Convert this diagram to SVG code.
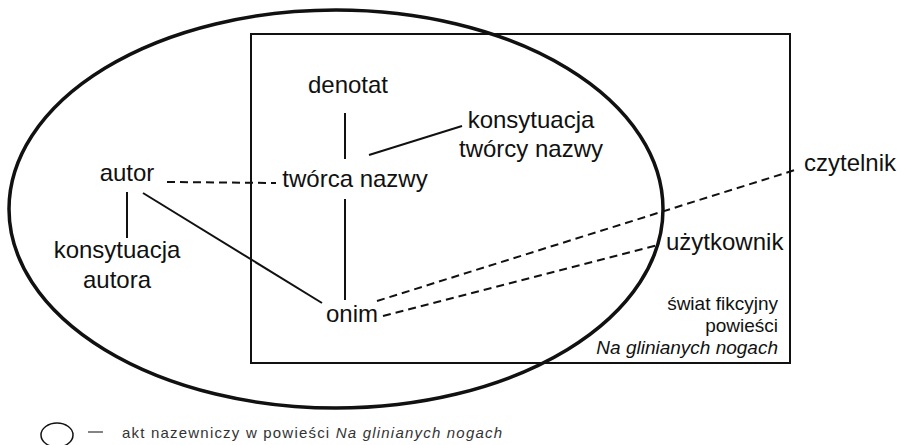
<svg xmlns="http://www.w3.org/2000/svg" width="901" height="445" viewBox="0 0 901 445">
  <style>
    .lbl { font-family: "Liberation Sans", Arial, sans-serif; font-size: 24px; fill: #111; }
    .sm { font-family: "Liberation Sans", Arial, sans-serif; font-size: 19px; fill: #111; text-anchor: end; }
    .legend { font-family: "Liberation Sans", Arial, sans-serif; font-size: 15px; fill: #333; letter-spacing: 1.2px; }
    .solid { stroke: #111; stroke-width: 2; fill: none; }
    .dash { stroke: #111; stroke-width: 2; fill: none; stroke-dasharray: 8 5; }
  </style>
  <rect width="901" height="445" fill="#fff"/>

  <!-- naming act (ellipse) and fictional world (frame) -->
  <g id="act">
    <ellipse cx="336" cy="209" rx="327" ry="199" fill="none" stroke="#111" stroke-width="3.5"/>
  </g>
  <g id="world">
    <rect x="251" y="34" width="539" height="329" fill="none" stroke="#111" stroke-width="2"/>
    <text class="sm" x="778" y="310">świat fikcyjny</text>
    <text class="sm" x="778" y="332">powieści</text>
    <text class="sm" x="778" y="354" font-style="italic">Na glinianych nogach</text>
  </g>

  <!-- connectors -->
  <g id="connectors">
    <line class="solid" x1="345" y1="113" x2="345" y2="159"/>
    <line class="solid" x1="345" y1="199" x2="345" y2="300"/>
    <line class="solid" x1="369" y1="155" x2="462" y2="126"/>
    <line class="solid" x1="127" y1="192" x2="127" y2="238"/>
    <line class="solid" x1="143" y1="193" x2="322" y2="303"/>
    <line class="dash" x1="167" y1="182" x2="276" y2="183"/>
    <line class="dash" x1="377" y1="301" x2="795" y2="170"/>
    <line class="dash" x1="383" y1="316" x2="658" y2="245"/>
  </g>

  <!-- nodes -->
  <g id="denotat"><text class="lbl" x="348" y="93" text-anchor="middle">denotat</text></g>
  <g id="tworca"><text class="lbl" x="355" y="187" text-anchor="middle">twórca nazwy</text></g>
  <g id="konsytuacja-tworcy">
    <text class="lbl" x="531" y="128" text-anchor="middle">konsytuacja</text>
    <text class="lbl" x="531" y="157" text-anchor="middle">twórcy nazwy</text>
  </g>
  <g id="autor"><text class="lbl" x="127" y="181" text-anchor="middle">autor</text></g>
  <g id="konsytuacja-autora">
    <text class="lbl" x="117" y="258" text-anchor="middle">konsytuacja</text>
    <text class="lbl" x="117" y="288" text-anchor="middle">autora</text>
  </g>
  <g id="onim"><text class="lbl" x="352" y="322" text-anchor="middle">onim</text></g>
  <g id="czytelnik"><text class="lbl" x="804" y="171">czytelnik</text></g>
  <g id="uzytkownik"><text class="lbl" x="666" y="250">użytkownik</text></g>

  <!-- legend -->
  <g id="legend">
    <ellipse cx="57" cy="435" rx="16" ry="12" fill="none" stroke="#111" stroke-width="1.5"/>
    <line x1="88" y1="432" x2="103" y2="432" stroke="#333" stroke-width="1.2"/>
    <text class="legend" x="122" y="438">akt nazewniczy w powieści <tspan font-style="italic">Na glinianych nogach</tspan></text>
  </g>
</svg>
